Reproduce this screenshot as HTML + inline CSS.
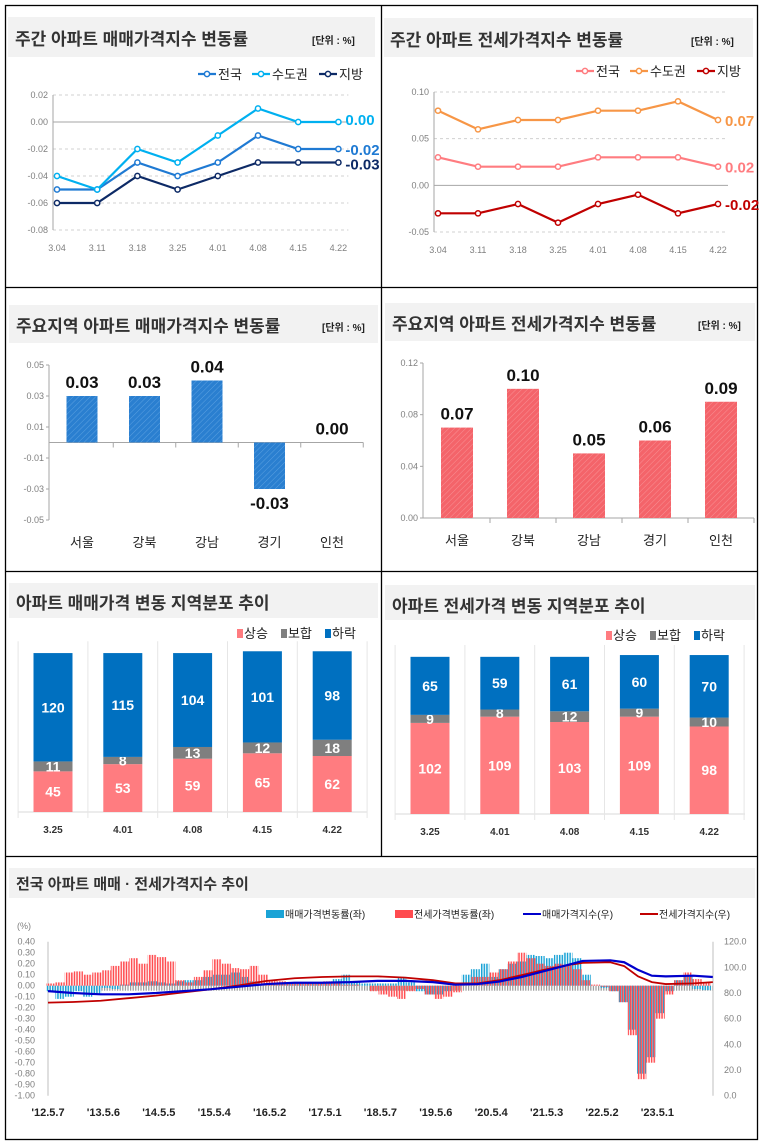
<!DOCTYPE html>
<html><head><meta charset="utf-8">
<style>
html,body{margin:0;padding:0;background:#fff;}
svg{display:block;font-family:"Liberation Sans","Noto Sans CJK KR",sans-serif;}
.tt{font-size:17px;font-weight:bold;fill:#333;}
.unit{font-size:10px;font-weight:bold;fill:#222;}
.tick{font-size:9px;fill:#7f7f7f;}
.num{font-family:"Liberation Sans Narrow","Liberation Sans",sans-serif;font-weight:bold;}
</style></head>
<body>
<svg id="root" width="761" height="1144" viewBox="0 0 761 1144" xmlns="http://www.w3.org/2000/svg">
<defs>
<pattern id="hatchB" width="4" height="4" patternUnits="userSpaceOnUse" patternTransform="rotate(45)"><rect width="4" height="4" fill="#2a7fd0"/><line x1="0" y1="0" x2="0" y2="4" stroke="#5aa0e0" stroke-width="1"/></pattern>
<pattern id="hatchR" width="4" height="4" patternUnits="userSpaceOnUse" patternTransform="rotate(45)"><rect width="4" height="4" fill="#f4646a"/><line x1="0" y1="0" x2="0" y2="4" stroke="#f89094" stroke-width="1"/></pattern>
<pattern id="stripeB" width="2.6" height="4" patternUnits="userSpaceOnUse"><rect width="1.5" height="4" fill="#1aa3d6"/></pattern>
<pattern id="stripeR" width="2.6" height="4" patternUnits="userSpaceOnUse"><rect x="0.9" width="1.5" height="4" fill="#ff4b4f"/></pattern>
<pattern id="stripeG" width="2.6" height="4" patternUnits="userSpaceOnUse"><rect width="1.2" height="4" fill="#999"/></pattern>
</defs>
<g stroke="#000" stroke-width="1.3" fill="none">
<rect x="5.5" y="5.5" width="752" height="1134"/>
<line x1="381.5" y1="5" x2="381.5" y2="857"/>
<line x1="5" y1="287.5" x2="758" y2="287.5"/>
<line x1="5" y1="571.5" x2="758" y2="571.5"/>
<line x1="5" y1="856.5" x2="758" y2="856.5"/>
</g>
<g fill="#f2f2f2">
<rect x="8" y="17" width="367" height="40"/><rect x="384" y="18" width="369" height="39"/>
<rect x="9" y="305" width="369" height="38"/><rect x="385" y="303" width="370" height="38"/>
<rect x="9" y="583" width="369" height="35"/><rect x="385" y="585" width="370" height="35"/>
<rect x="9" y="868" width="746" height="30"/>
</g>
<text class="tt" x="15" y="45">주간 아파트 매매가격지수 변동률</text>
<text class="unit" x="312" y="44">[단위 : %]</text>
<text class="tt" x="390" y="46">주간 아파트 전세가격지수 변동률</text>
<text class="unit" x="691" y="45">[단위 : %]</text>
<text class="tt" x="16" y="332">주요지역 아파트 매매가격지수 변동률</text>
<text class="unit" x="322" y="331">[단위 : %]</text>
<text class="tt" x="392" y="330">주요지역 아파트 전세가격지수 변동률</text>
<text class="unit" x="698" y="329">[단위 : %]</text>
<text class="tt" x="16" y="609">아파트 매매가격 변동 지역분포 추이</text>
<text class="tt" x="392" y="612">아파트 전세가격 변동 지역분포 추이</text>
<text class="tt" x="16" y="889" style="font-size:15px">전국 아파트 매매 · 전세가격지수 추이</text>
<g id="c1"></g><g id="c2"></g><g id="c3"></g><g id="c4"></g><g id="c5"></g><g id="c6"></g><g id="c7"></g>
</svg>
<script>
// ---- weekly line charts ----
const weeks = ["3.04","3.11","3.18","3.25","4.01","4.08","4.15","4.22"];
const saleNation = [-0.05,-0.05,-0.03,-0.04,-0.03,-0.01,-0.02,-0.02];
const saleCapital = [-0.04,-0.05,-0.02,-0.03,-0.01,0.01,0.00,0.00];
const saleLocal = [-0.06,-0.06,-0.04,-0.05,-0.04,-0.03,-0.03,-0.03];
const saleTicks = [0.02,0.00,-0.02,-0.04,-0.06,-0.08];
const jeonseNation = [0.03,0.02,0.02,0.02,0.03,0.03,0.03,0.02];
const jeonseCapital = [0.08,0.06,0.07,0.07,0.08,0.08,0.09,0.07];
const jeonseLocal = [-0.03,-0.03,-0.02,-0.04,-0.02,-0.01,-0.03,-0.02];
const jeonseTicks = [0.10,0.05,0.00,-0.05];
// ---- region bars ----
const regions = ["서울","강북","강남","경기","인천"];
const regionSale = [0.03,0.03,0.04,-0.03,0.00];
const regionSaleTicks = [0.05,0.03,0.01,-0.01,-0.03,-0.05];
const regionJeonse = [0.07,0.10,0.05,0.06,0.09];
const regionJeonseTicks = [0.12,0.08,0.04,0.00];
// ---- distribution ----
const distWeeks = ["3.25","4.01","4.08","4.15","4.22"];
const saleUp = [45,53,59,65,62];
const saleFlat = [11,8,13,12,18];
const saleDown = [120,115,104,101,98];
const jeonseUp = [102,109,103,109,98];
const jeonseFlat = [9,8,12,9,10];
const jeonseDown = [65,59,61,60,70];
// ---- long-term trend ----
const trendStart = 2012.4; // bimonthly samples
const trendSaleRate = [-0.05,-0.12,-0.10,-0.05,-0.10,-0.08, -0.02,-0.03,0.01,0.03,0.03,0.04, 0.03,0.02,0.04,0.05,0.05,0.08, 0.10,0.10,0.12,0.08,0.04,0.02, 0.02,0.03,0.03,0.03,0.02,0.02, 0.03,0.06,0.10,0.03,0.02,0.02, 0.02,0.02,0.08,0.03,-0.05,-0.08, -0.08,-0.05,0.02,0.10,0.15,0.20, 0.08,0.15,0.20,0.22,0.28,0.27, 0.25,0.28,0.30,0.25,0.10,0.00, -0.02,-0.05,-0.15,-0.40,-0.80,-0.65, -0.25,-0.05,0.05,0.08,-0.03,-0.04];
const trendJeonseRate = [0.02,0.03,0.12,0.13,0.10,0.12, 0.14,0.18,0.22,0.25,0.20,0.28, 0.26,0.22,0.05,0.03,0.08,0.14, 0.24,0.20,0.16,0.15,0.18,0.10, 0.05,0.04,0.03,0.03,0.02,0.02, 0.04,0.02,0.01,0.01,0.00,-0.05, -0.08,-0.10,-0.12,-0.05,-0.03,-0.08, -0.12,-0.10,-0.06,0.02,0.08,0.08, 0.12,0.15,0.22,0.30,0.25,0.20, 0.18,0.20,0.18,0.15,0.05,0.01, -0.01,-0.05,-0.15,-0.45,-0.85,-0.70, -0.30,-0.08,0.05,0.12,0.06,0.03];
const indexDates = [2012.35,2012.8,2013.3,2013.8,2014.3,2014.8,2015.3,2015.8,2016.3,2016.8,2017.3,2017.8,2018.3,2018.8,2019.3,2019.7,2020.1,2020.5,2020.9,2021.3,2021.7,2022.0,2022.5,2022.75,2023.0,2023.25,2023.5,2024.0,2024.35];
const saleIndex = [81.5,80,79,79,80,81.5,83,85,87,88,88,88.5,89.5,89.5,88.5,86.5,87,89,92.5,97,101.5,105,105.5,104,98,93.5,93,93.5,92.5];
const jeonseIndex = [72.5,73,74,76,78,80.5,83,86,89.5,91.5,92.5,93,93,92,90,87.5,87.5,90,94,98,101.5,103.5,104,101,93,88.5,87,87.5,88.5];
const trendLeftTicks = [0.40,0.30,0.20,0.10,0.00,-0.10,-0.20,-0.30,-0.40,-0.50,-0.60,-0.70,-0.80,-0.90,-1.00];
const trendRightTicks = [120,100,80,60,40,20,0];
const trendXLabels = ["'12.5.7","'13.5.6","'14.5.5","'15.5.4","'16.5.2","'17.5.1","'18.5.7","'19.5.6","'20.5.4","'21.5.3","'22.5.2","'23.5.1"];
const trendXDates = [2012.35,2013.35,2014.35,2015.35,2016.35,2017.35,2018.35,2019.35,2020.35,2021.35,2022.35,2023.35];

const NS="http://www.w3.org/2000/svg";
function mk(parent,tag,attrs,text){const e=document.createElementNS(NS,tag);for(const k in attrs)e.setAttribute(k,attrs[k]);if(text!==undefined)e.textContent=text;parent.appendChild(e);return e;}
function fmt(v,d){let s=Math.abs(v).toFixed(d);return (v<0&&Math.abs(v)>=Math.pow(10,-d)/2?"-":"")+s;}

function lineChart(g, x0, dx, yTop, yBot, vTop, vBot, ticks, series, colors, names, labelYOff, legendX, legendNames){
  const y=v=>yTop+(vTop-v)/(vTop-vBot)*(yBot-yTop);
  const x=i=>x0+i*dx;
  const axisX=x0-4;
  ticks.forEach(t=>{
    const gl=mk(g,'line',{x1:axisX,x2:x(7)+10,y1:y(t),y2:y(t),stroke:Math.abs(t)<1e-9?'#a6a6a6':'#d0d0d0','stroke-dasharray':Math.abs(t)<1e-9?'':'3,3'});
    
    
    const tl=mk(g,'text',{x:axisX-5,y:y(t)+3,'text-anchor':'end',class:'tick'},t.toFixed(2));
    
    
  });
  const ax=mk(g,'line',{x1:axisX,x2:axisX,y1:y(ticks[0]),y2:y(ticks[ticks.length-1]),stroke:'#a6a6a6'});
  
  
  weeks.forEach((w,i)=>{
    const t=mk(g,'text',{x:x(i),y:yBot+21,'text-anchor':'middle',class:'tick',fill:'#a6a6a6'},w);
    
    
  });
  series.forEach((s,k)=>{
    const p=mk(g,'polyline',{points:s.map((v,i)=>x(i)+','+y(v)).join(' '),fill:'none',stroke:colors[k],'stroke-width':2.2});
    
    
    s.forEach((v,i)=>{
      const c=mk(g,'circle',{cx:x(i),cy:y(v),r:2.6,fill:'#fff',stroke:colors[k],'stroke-width':1.5});
      
      
    });
    const last=s[s.length-1];
    const lb=mk(g,'text',{x:x(7)+7,y:y(last)+6+labelYOff[k],fill:colors[k],class:'num','font-size':15},fmt(last,2));
    
    
  });
  let lx=legendX;
  legendNames.forEach((n,k)=>{
    const lg=mk(g,'g',{});
    
    
    mk(lg,'line',{x1:lx,x2:lx+18,y1:yTop-21,y2:yTop-21,stroke:colors[k],'stroke-width':2.2});
    mk(lg,'circle',{cx:lx+9,cy:yTop-21,r:2.6,fill:'#fff',stroke:colors[k],'stroke-width':1.5});
    mk(lg,'text',{x:lx+20,y:yTop-16,'font-size':13,fill:'#222'},n);
    lx+=20+n.length*13+8;
  });
}
lineChart(document.getElementById('c1'),57,40.2,95,230,0.02,-0.08,saleTicks,[saleNation,saleCapital,saleLocal],['#1f7ad3','#00b0f0','#0d2a66'],['nation','capital','local'],[0,-3,1],198,["전국","수도권","지방"]);
lineChart(document.getElementById('c2'),438,40,92,232,0.10,-0.05,jeonseTicks,[jeonseNation,jeonseCapital,jeonseLocal],['#ff7c80','#f79646','#c00000'],['nation','capital','local'],[0,0,0],576,["전국","수도권","지방"]);

function barChart(g, cx0, dx, bw, yTop, yBot, vTop, vBot, ticks, vals, fill, axisX, name){
  const y=v=>yTop+(vTop-v)/(vTop-vBot)*(yBot-yTop);
  ticks.forEach(t=>{
    const tl=mk(g,'text',{x:axisX-5,y:y(t)+3,'text-anchor':'end',class:'tick','font-size':9,fill:'#7f7f7f'},t.toFixed(2));
    
    
    mk(g,'line',{x1:axisX-3,x2:axisX,y1:y(t),y2:y(t),stroke:'#a6a6a6'});
  });
  const ax=mk(g,'line',{x1:axisX,x2:axisX,y1:y(ticks[0]),y2:y(ticks[ticks.length-1]),stroke:'#a6a6a6'});
  
  
  const base=mk(g,'line',{x1:axisX,x2:cx0+4*dx+dx/2,y1:y(0),y2:y(0),stroke:'#a6a6a6'});
  
  
  regions.forEach((r,i)=>{
    const cx=cx0+i*dx;
    mk(g,'line',{x1:cx+dx/2,x2:cx+dx/2,y1:y(0),y2:y(0)+5,stroke:'#a6a6a6'});
    const v=vals[i];
    const b=mk(g,'rect',{x:cx-bw/2,y:Math.min(y(v),y(0)),width:bw,height:Math.abs(y(v)-y(0)),fill:fill});
    
    
    const ly=v<0?y(v)+20:y(v)-8;
    const lb=mk(g,'text',{x:cx,y:ly,'text-anchor':'middle',class:'num','font-size':17,fill:'#111'},fmt(v,2));
    
    
    const xl=mk(g,'text',{x:cx,y:yBot+27,'text-anchor':'middle','font-size':13,fill:'#222'},r);
    
    
  });
}
barChart(document.getElementById('c3'),82,62.5,31,365,520,0.05,-0.05,regionSaleTicks,regionSale,'url(#hatchB)',49,'sale');
barChart(document.getElementById('c4'),457,66,32,363,518,0.12,0.00,regionJeonseTicks,regionJeonse,'url(#hatchR)',423,'jeonse');

function stackChart(g, cx0, dx, bw, base, scale, up, flat, down, legendX, legendY, left, right){
  const cols=['#ff7c80','#7f7f7f','#0070c0'];
  const names=['상승','보합','하락'];
  let lx=legendX;
  names.forEach((n,k)=>{
    const lg=mk(g,'g',{});
    
    
    mk(lg,'rect',{x:lx,y:legendY-9,width:6,height:9,fill:cols[k]});
    mk(lg,'text',{x:lx+7,y:legendY,'font-size':13,fill:'#222'},n);
    lx+=44;
  });
  const bl=mk(g,'line',{x1:left,x2:right,y1:base,y2:base,stroke:'#d9d9d9'});
  
  
  for(let i=0;i<=5;i++){const gx=cx0-dx/2+i*dx;mk(g,'line',{x1:gx,x2:gx,y1:base-178*scale-10,y2:base+6,stroke:'#e6e6e6'});}
  distWeeks.forEach((w,i)=>{
    const cx=cx0+i*dx;
    let y=base;
    [up[i],flat[i],down[i]].forEach((v,k)=>{
      const h=v*scale;
      const r=mk(g,'rect',{x:cx-bw/2,y:y-h,width:bw,height:h,fill:cols[k]});
      
      
      const t=mk(g,'text',{x:cx,y:y-h/2+5,'text-anchor':'middle',class:'num','font-size':14,fill:'#fff'},String(v));
      
      
      y-=h;
    });
    const xl=mk(g,'text',{x:cx,y:base+21,'text-anchor':'middle','font-size':10,'font-weight':'bold',fill:'#333'},w);
    
    
  });
}
stackChart(document.getElementById('c5'),53,69.8,39,812,0.903,saleUp,saleFlat,saleDown,237,638,18,367);
stackChart(document.getElementById('c6'),430,69.8,39,814,0.893,jeonseUp,jeonseFlat,jeonseDown,606,640,395,745);

(function(){
  const g=document.getElementById('c7');
  const xL=48,pxYear=55.4,d0=2012.35;
  const x=d=>xL+(d-d0)*pxYear;
  const yZero=985.7,pxPct=110;
  const yL=v=>yZero-v*pxPct;
  const yR=v=>1095.7-v*(154/120);
  mk(g,'text',{x:17,y:929,'font-size':9,fill:'#7f7f7f'},'(%)');
  trendLeftTicks.forEach(t=>{
    const tl=mk(g,'text',{x:35,y:yL(t)+3,'text-anchor':'end','font-size':9,fill:'#7f7f7f'},t.toFixed(2));
    
    
  });
  trendRightTicks.forEach(t=>{
    const tl=mk(g,'text',{x:724,y:yR(t)+3,'font-size':9,fill:'#7f7f7f'},t.toFixed(1));
    
    
  });
  mk(g,'line',{x1:xL,x2:xL,y1:yL(0.4),y2:yL(-1),stroke:'#bfbfbf'});
  mk(g,'line',{x1:713,x2:713,y1:yL(0.4),y2:yL(-1),stroke:'#bfbfbf'});
  trendXLabels.forEach((l,i)=>{
    const t=mk(g,'text',{x:x(trendXDates[i]),y:1116,'text-anchor':'middle','font-size':11,'font-weight':'bold',fill:'#222'},l);
    
    
  });
  const bw=pxYear/6;
  const zb=mk(g,'rect',{x:xL,y:yZero,width:713-xL,height:5,fill:'url(#stripeG)'});
  
  
  trendSaleRate.forEach((v,i)=>{
    const d=trendStart+i/6;
    const b=mk(g,'rect',{x:x(d)-bw/2,y:Math.min(yL(v),yZero),width:bw,height:Math.abs(yL(v)-yZero),fill:'url(#stripeB)'});
    
    
  });
  trendJeonseRate.forEach((v,i)=>{
    const d=trendStart+i/6;
    const b=mk(g,'rect',{x:x(d)-bw/2,y:Math.min(yL(v),yZero),width:bw,height:Math.abs(yL(v)-yZero),fill:'url(#stripeR)'});
    
    
  });
  const pj=mk(g,'polyline',{points:indexDates.map((d,i)=>x(d)+','+yR(jeonseIndex[i])).join(' '),fill:'none',stroke:'#c00000','stroke-width':1.8});
  
  
  const ps=mk(g,'polyline',{points:indexDates.map((d,i)=>x(d)+','+yR(saleIndex[i])).join(' '),fill:'none',stroke:'#0000cc','stroke-width':2.2});
  
  
  const leg=[['rect','#1aa3d6','매매가격변동률(좌)',266],['rect','#ff4b4f','전세가격변동률(좌)',395],['line','#0000cc','매매가격지수(우)',523],['line','#c00000','전세가격지수(우)',640]];
  leg.forEach(l=>{
    const lg=mk(g,'g',{});
    
    
    if(l[0]==='rect') mk(lg,'rect',{x:l[3],y:910,width:18,height:8,fill:l[1]});
    else mk(lg,'line',{x1:l[3],x2:l[3]+18,y1:914,y2:914,stroke:l[1],'stroke-width':2});
    mk(lg,'text',{x:l[3]+19,y:918,'font-size':10,fill:'#222'},l[2]);
  });
})();
</script>
</body></html>
